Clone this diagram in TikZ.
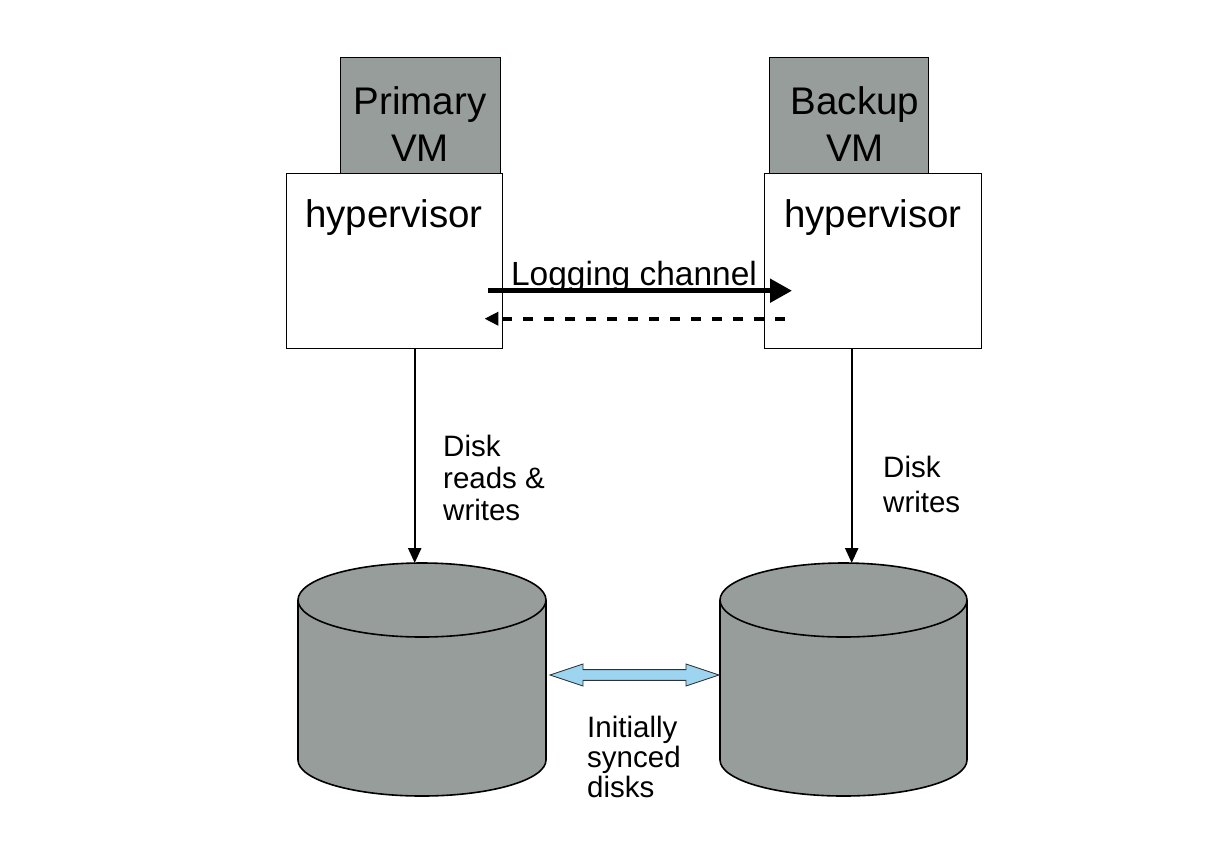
\documentclass[tikz,border=0pt]{standalone}
\usepackage{fontspec}
\setmainfont{Liberation Sans}
\usetikzlibrary{arrows.meta,calc}

\definecolor{vmgray}{RGB}{151,157,155}
\definecolor{syncblue}{RGB}{157,213,240}
\definecolor{syncedge}{RGB}{45,50,55}

\tikzset{
  vmbox/.style={draw=black, line width=1.4pt, fill=vmgray, inner sep=0pt, anchor=north west},
  hvbox/.style={draw=black, line width=1.4pt, fill=white, inner sep=0pt, anchor=north west},
  bigtext/.style={inner sep=0pt, align=center, font=\fontsize{38.5}{47}\selectfont},
  labeltext/.style={inner sep=0pt, align=left, font=\fontsize{29.5}{32}\selectfont},
  logarrow/.style={line width=5pt, -{Triangle[length=22pt,width=23pt]}},
  replyarrow/.style={line width=4pt, dash pattern=on 10pt off 11pt, -{Triangle[length=14pt,width=13pt]}},
  diskarrow/.style={line width=2.4pt, -{Triangle[length=15pt,width=13pt]}},
  disk/.style={fill=vmgray, draw=black, line width=1.6pt},
  syncarrow/.style={fill=syncblue, draw=syncedge, line width=0.9pt, line join=miter},
}

\begin{document}
\begin{tikzpicture}[x=1pt,y=-1pt]
\useasboundingbox (0,0) rectangle (1222,844);

% primary side
\node[vmbox, minimum width=160pt, minimum height=116pt] (pvm) at (340,57) {};
\node[bigtext, anchor=north] (pvmtext) at (420,86) {Primary\\VM};
\node[hvbox, minimum width=216pt, minimum height=175pt] (ph) at (286,173) {};
\node[bigtext, anchor=base] (phtext) at (394,227) {hypervisor};

% backup side
\node[vmbox, minimum width=159pt, minimum height=116pt] (bvm) at (769,57) {};
\node[bigtext, anchor=north] (bvmtext) at (855,86) {Backup\\VM};
\node[hvbox, minimum width=217pt, minimum height=175pt] (bh) at (764,173) {};
\node[bigtext, anchor=base] (bhtext) at (873,227) {hypervisor};

% logging channel between the hypervisors
\draw[logarrow] ([xshift=-15pt,yshift=-29.5pt]ph.east) -- ([xshift=28pt,yshift=-29.5pt]bh.west);
\node[inner sep=0pt, anchor=base, font=\fontsize{33.5}{36}\selectfont] (logtext) at (634,285) {Logging channel};
\draw[replyarrow] ([xshift=21pt,yshift=-57.5pt]bh.west) -- ([xshift=-19pt,yshift=-57.5pt]ph.east);

% disks
\begin{scope}
  \fill[vmgray] (298,600) rectangle (546,760);
  \begin{scope}
    \clip (280,760) rectangle (560,820);
    \draw[disk] (422,760) ellipse [x radius=124, y radius=36];
  \end{scope}
  \draw[black, line width=1.6pt] (298,600) -- (298,760) (546,600) -- (546,760);
  \draw[disk] (422,600) ellipse [x radius=124, y radius=37];
\end{scope}
\coordinate (d1) at (422,563);

\begin{scope}
  \fill[vmgray] (720,600) rectangle (967,760);
  \begin{scope}
    \clip (700,760) rectangle (990,820);
    \draw[disk] (843.5,760) ellipse [x radius=123.5, y radius=36];
  \end{scope}
  \draw[black, line width=1.6pt] (720,600) -- (720,760) (967,600) -- (967,760);
  \draw[disk] (843.5,600) ellipse [x radius=123.5, y radius=37];
\end{scope}
\coordinate (d2) at (843.5,563);

% disk traffic
\draw[diskarrow] ([xshift=20pt]ph.south) -- ([xshift=20pt]ph.south |- d1);
\node[labeltext, anchor=north west] (ptext) at (443,435) {Disk\\reads \&\\writes};
\draw[diskarrow] ([xshift=-21.5pt]bh.south) -- ([xshift=-21.5pt]bh.south |- d2);
\node[labeltext, anchor=north west, font=\fontsize{29.5}{35}\selectfont] (btext) at (883,456) {Disk\\writes};

% sync between the disks
\coordinate (sl) at (550,675);
\coordinate (sr) at (719,675);
\draw[syncarrow] (sl) -- ++(33,-11) -- ++(0,5.6) -- ++(103,0) -- ++(0,-5.6) -- (sr)
  -- ++(-33,11) -- ++(0,-5.6) -- ++(-103,0) -- ++(0,5.6) -- cycle;
\node[labeltext, anchor=north west, font=\fontsize{29.5}{30}\selectfont] (synctext) at (587,716) {Initially\\synced\\disks};
\end{tikzpicture}
\end{document}
